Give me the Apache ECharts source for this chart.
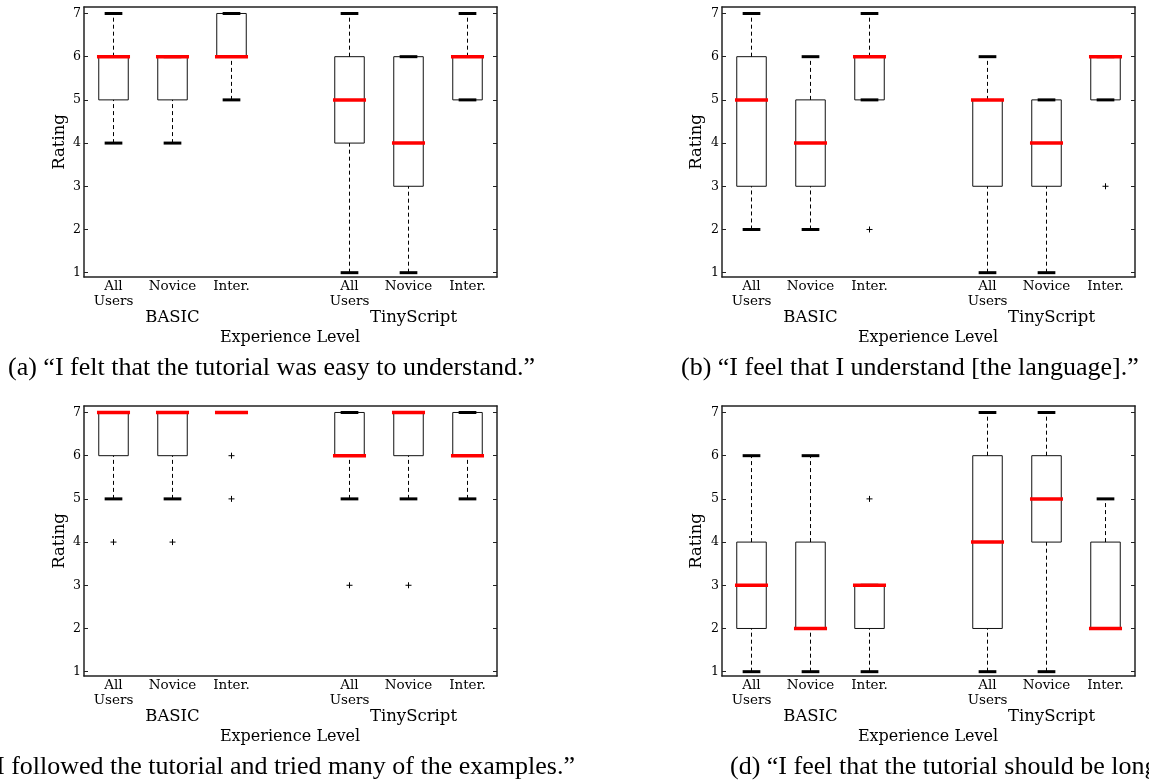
<!DOCTYPE html>
<html>
<head>
<meta charset="utf-8">
<script src="https://cdn.jsdelivr.net/npm/echarts@6/dist/echarts.min.js"></script>
<style>
  html, body { margin: 0; padding: 0; background: #fff; }
  #chart { width: 1149px; height: 784px; }
</style>
</head>
<body>
<div id="chart"></div>
<script>
// categories along x (slot 4 is the empty gap between the two languages)
const categories = ['All\nUsers', 'Novice', 'Inter.', '', 'All\nUsers', 'Novice', 'Inter.']
const groupLabels = ['BASIC', 'TinyScript']
const yTicks = [1, 2, 3, 4, 5, 6, 7]

// each box: [lower whisker, Q1, median, Q3, upper whisker], null = empty slot
const boxesA = [[4, 5, 6, 6, 7], [4, 5, 6, 6, 6], [5, 6, 6, 7, 7], null, [1, 4, 5, 6, 7], [1, 3, 4, 6, 6], [5, 5, 6, 6, 7]]
const boxesB = [[2, 3, 5, 6, 7], [2, 3, 4, 5, 6], [5, 5, 6, 6, 7], null, [1, 3, 5, 5, 6], [1, 3, 4, 5, 5], [5, 5, 6, 6, 6]]
const boxesC = [[5, 6, 7, 7, 7], [5, 6, 7, 7, 7], [7, 7, 7, 7, 7], null, [5, 6, 6, 7, 7], [5, 6, 7, 7, 7], [5, 6, 6, 7, 7]]
const boxesD = [[1, 2, 3, 4, 6], [1, 2, 2, 4, 6], [1, 2, 3, 3, 3], null, [1, 2, 4, 6, 7], [1, 4, 5, 6, 7], [2, 2, 2, 4, 5]]

// outliers: [slot index, rating]
const outliersA = []
const outliersB = [[2, 2], [6, 3]]
const outliersC = [[0, 4], [1, 4], [2, 6], [2, 5], [4, 3], [5, 3]]
const outliersD = [[2, 5]]

const captions = [
  '(a) \u201CI felt that the tutorial was easy to understand.\u201D',
  '(b) \u201CI feel that I understand [the language].\u201D',
  '(c) \u201CI followed the tutorial and tried many of the examples.\u201D',
  '(d) \u201CI feel that the tutorial should be longer.\u201D',
]

const panels = [
  { boxes: boxesA, outliers: outliersA, left: 84, top: 7, cap: { x: 8, align: 'left' } },
  { boxes: boxesB, outliers: outliersB, left: 722, top: 7, cap: { x: 681, align: 'left' } },
  { boxes: boxesC, outliers: outliersC, left: 84, top: 406, cap: { x: 575, align: 'right' } },
  { boxes: boxesD, outliers: outliersD, left: 722, top: 406, cap: { x: 730, align: 'left' } },
]
const W = 413, H = 270
const serif = '"DejaVu Serif", serif'

function renderBox(params, api) {
  const x = api.value(0)
  const lo = api.coord([x, api.value(1)])
  const q1 = api.coord([x, api.value(2)])
  const med = api.coord([x, api.value(3)])
  const q3 = api.coord([x, api.value(4)])
  const hi = api.coord([x, api.value(5)])
  const band = api.size([1, 0])[0]
  const cx = q1[0], bw = band * 0.5, cw = band * 0.3, mw = band * 0.56
  const kids = [{
    type: 'rect',
    shape: { x: cx - bw / 2, y: q3[1], width: bw, height: q1[1] - q3[1] },
    style: { fill: '#fff', stroke: '#111', lineWidth: 1 },
  }]
  const dash = { stroke: '#000', lineWidth: 1, lineDash: [4, 3] }
  if (lo[1] > q1[1]) kids.push({ type: 'line', shape: { x1: cx, y1: lo[1], x2: cx, y2: q1[1] }, style: dash })
  if (hi[1] < q3[1]) kids.push({ type: 'line', shape: { x1: cx, y1: q3[1], x2: cx, y2: hi[1] }, style: dash })
  const cap = { stroke: '#000', lineWidth: 3 }
  kids.push({ type: 'line', shape: { x1: cx - cw / 2, y1: lo[1], x2: cx + cw / 2, y2: lo[1] }, style: cap })
  kids.push({ type: 'line', shape: { x1: cx - cw / 2, y1: hi[1], x2: cx + cw / 2, y2: hi[1] }, style: cap })
  kids.push({
    type: 'line',
    shape: { x1: cx - mw / 2, y1: med[1], x2: cx + mw / 2, y2: med[1] },
    style: { stroke: '#ff0000', lineWidth: 3.5 },
  })
  return { type: 'group', children: kids }
}

function renderPlus(params, api) {
  const p = api.coord([api.value(0), api.value(1)])
  const s = 3
  return {
    type: 'group',
    children: [
      { type: 'line', shape: { x1: p[0] - s, y1: p[1], x2: p[0] + s, y2: p[1] }, style: { stroke: '#000', lineWidth: 1 } },
      { type: 'line', shape: { x1: p[0], y1: p[1] - s, x2: p[0], y2: p[1] + s }, style: { stroke: '#000', lineWidth: 1 } },
    ],
  }
}

const grid = [], xAxis = [], yAxis = [], series = [], graphic = []
const frame = { lineStyle: { color: '#222', width: 1.5 } }
const tick = { inside: true, length: 4, lineStyle: { color: '#222' } }

panels.forEach((p, i) => {
  grid.push({ left: p.left, top: p.top, width: W, height: H })
  xAxis.push({
    type: 'category', gridIndex: i, data: categories, position: 'bottom',
    axisLine: { onZero: false, ...frame },
    axisTick: { alignWithLabel: true, ...tick },
    axisLabel: { interval: 0, margin: 2, color: '#000', fontFamily: serif, fontSize: 13.5, lineHeight: 15 },
    splitLine: { show: false },
  })
  xAxis.push({
    type: 'category', gridIndex: i, data: categories, position: 'top',
    axisLine: { onZero: false, ...frame },
    axisTick: { alignWithLabel: true, ...tick },
    axisLabel: { show: false },
    splitLine: { show: false },
  })
  yAxis.push({
    type: 'value', gridIndex: i, min: 0.9, max: 7.15, position: 'left',
    axisLine: { show: true, ...frame },
    axisTick: { show: true, customValues: yTicks, ...tick },
    axisLabel: { customValues: yTicks, margin: 3, color: '#000', fontFamily: serif, fontSize: 12.5 },
    splitLine: { show: false },
  })
  yAxis.push({
    type: 'value', gridIndex: i, min: 0.9, max: 7.15, position: 'right',
    axisLine: { show: true, ...frame },
    axisTick: { show: true, customValues: yTicks, ...tick },
    axisLabel: { show: false },
    splitLine: { show: false },
  })

  const boxData = []
  p.boxes.forEach((b, k) => { if (b) boxData.push([k, ...b]) })
  series.push({
    type: 'custom', xAxisIndex: i * 2, yAxisIndex: i * 2,
    data: boxData, encode: { x: 0, y: [1, 2, 3, 4, 5] },
    renderItem: renderBox, silent: true, clip: false,
  })
  series.push({
    type: 'custom', xAxisIndex: i * 2, yAxisIndex: i * 2,
    data: p.outliers, encode: { x: 0, y: 1 },
    renderItem: renderPlus, silent: true, z: 3,
  })

  const t = (text, x, y, size, extra) => ({
    type: 'text', x, y, silent: true, ...(extra || {}),
    style: {
      text, x: 0, y: 0, fill: '#000', font: size + 'px ' + serif,
      align: 'center', verticalAlign: 'middle', textAlign: 'center', textVerticalAlign: 'middle',
    },
  })
  const dx = p.left - 84, dy = p.top - 7
  graphic.push(t('Rating', 60 + dx - (i % 2 ? 1 : 0), 142 + dy, 16.5, { rotation: Math.PI / 2 }))
  graphic.push(t(groupLabels[0], 172.5 + dx, 317.5 + dy, 16.5))
  graphic.push(t(groupLabels[1], 413.5 + dx, 317.5 + dy, 16.5))
  graphic.push(t('Experience Level', 290 + dx, 337.5 + dy, 16))
  graphic.push({
    type: 'text', x: p.cap.x, y: 368 + dy, silent: true,
    style: {
      text: captions[i], x: 0, y: 0, fill: '#000', font: '26px "Liberation Serif", serif',
      align: p.cap.align, verticalAlign: 'middle', textAlign: p.cap.align, textVerticalAlign: 'middle',
    },
  })
})

const chart = echarts.init(document.getElementById('chart'), null, { renderer: 'canvas' })
chart.setOption({
  animation: false,
  backgroundColor: '#fff',
  grid, xAxis, yAxis, series, graphic,
})
</script>
</body>
</html>
